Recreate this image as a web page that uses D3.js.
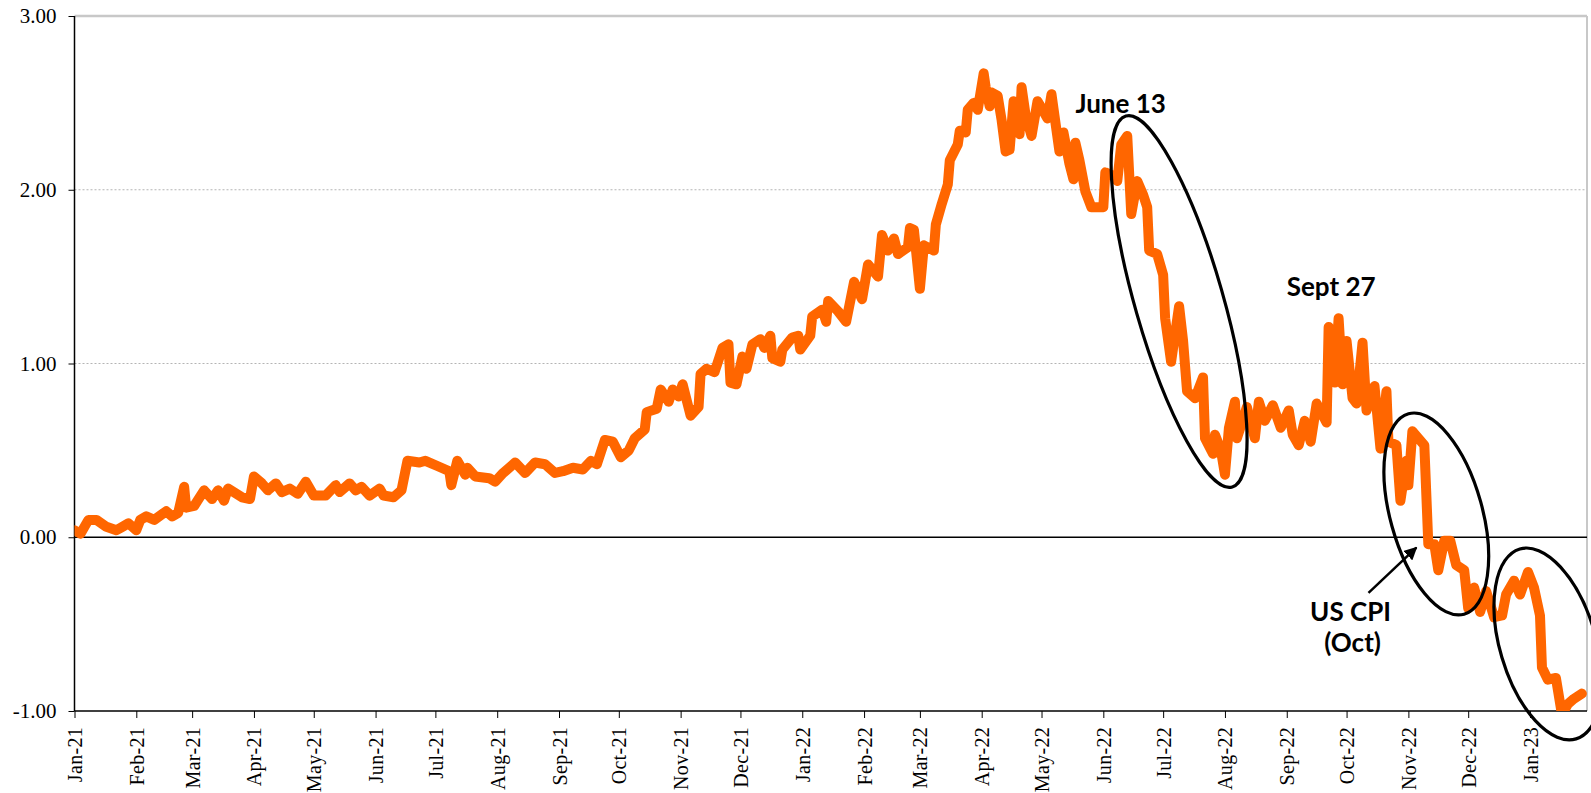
<!DOCTYPE html>
<meta charset="utf-8">
<script src="https://d3js.org/d3.v7.min.js"></script>
<style>
  body { margin: 0; background: #fff; }
</style>
<div id="chart"></div>
<script>

// dates and values
const dates = [
  "2021-01-01","2021-01-04","2021-01-08","2021-01-12","2021-01-17","2021-01-22","2021-01-25","2021-01-28",
  "2021-02-01","2021-02-03","2021-02-06","2021-02-10","2021-02-16","2021-02-19","2021-02-22","2021-02-25","2021-02-26",
  "2021-03-02","2021-03-07","2021-03-11","2021-03-14","2021-03-17","2021-03-19","2021-03-26","2021-03-30",
  "2021-04-01","2021-04-05","2021-04-08","2021-04-12","2021-04-15","2021-04-19","2021-04-23","2021-04-27",
  "2021-05-01","2021-05-07","2021-05-12","2021-05-14","2021-05-19","2021-05-22","2021-05-25","2021-05-29",
  "2021-06-03","2021-06-05","2021-06-10","2021-06-14","2021-06-17","2021-06-23","2021-06-26",
  "2021-07-02","2021-07-08","2021-07-09","2021-07-12","2021-07-16","2021-07-17","2021-07-21","2021-07-28","2021-07-31",
  "2021-08-04","2021-08-10","2021-08-15","2021-08-20","2021-08-25","2021-08-30",
  "2021-09-03","2021-09-08","2021-09-13","2021-09-17","2021-09-20","2021-09-24","2021-09-28",
  "2021-10-02","2021-10-06","2021-10-09","2021-10-14","2021-10-15","2021-10-20","2021-10-22","2021-10-26","2021-10-28","2021-10-31",
  "2021-11-02","2021-11-06","2021-11-10","2021-11-11","2021-11-14","2021-11-18","2021-11-22","2021-11-25","2021-11-26","2021-11-29",
  "2021-12-02","2021-12-04","2021-12-07","2021-12-11","2021-12-13","2021-12-16","2021-12-17","2021-12-21","2021-12-22","2021-12-27","2021-12-30","2021-12-31",
  "2022-01-05","2022-01-06","2022-01-11","2022-01-13","2022-01-14","2022-01-19","2022-01-23","2022-01-27","2022-01-31",
  "2022-02-03","2022-02-08","2022-02-10","2022-02-13","2022-02-16","2022-02-18","2022-02-23","2022-02-24","2022-02-26",
  "2022-03-01","2022-03-03","2022-03-08","2022-03-09","2022-03-12","2022-03-15","2022-03-16","2022-03-20","2022-03-21","2022-03-24","2022-03-25","2022-03-28","2022-03-30",
  "2022-04-02","2022-04-03","2022-04-05","2022-04-06","2022-04-09","2022-04-11","2022-04-13","2022-04-15","2022-04-17","2022-04-20","2022-04-21","2022-04-23","2022-04-26","2022-04-29",
  "2022-05-01","2022-05-04","2022-05-06","2022-05-10","2022-05-12","2022-05-15","2022-05-17","2022-05-18","2022-05-20","2022-05-23","2022-05-26",
  "2022-06-01","2022-06-02","2022-06-06","2022-06-08","2022-06-10","2022-06-13","2022-06-15","2022-06-18","2022-06-21","2022-06-23","2022-06-24","2022-06-28",
  "2022-07-01","2022-07-02","2022-07-05","2022-07-09","2022-07-11","2022-07-13","2022-07-17","2022-07-21","2022-07-22","2022-07-26","2022-07-27","2022-07-30",
  "2022-08-01","2022-08-03","2022-08-06","2022-08-07","2022-08-09","2022-08-12","2022-08-16","2022-08-18","2022-08-21","2022-08-25","2022-08-29",
  "2022-09-02","2022-09-04","2022-09-07","2022-09-10","2022-09-13","2022-09-16","2022-09-21","2022-09-22","2022-09-25","2022-09-27","2022-09-29",
  "2022-10-01","2022-10-04","2022-10-06","2022-10-09","2022-10-11","2022-10-15","2022-10-18","2022-10-21","2022-10-22","2022-10-26","2022-10-28","2022-10-31",
  "2022-11-01","2022-11-03","2022-11-06","2022-11-09","2022-11-11","2022-11-14","2022-11-16","2022-11-19","2022-11-22","2022-11-25","2022-11-29",
  "2022-12-01","2022-12-04","2022-12-07","2022-12-10","2022-12-14","2022-12-18","2022-12-20","2022-12-24","2022-12-27","2022-12-31",
  "2023-01-03","2023-01-06","2023-01-07","2023-01-10","2023-01-14","2023-01-17","2023-01-20","2023-01-23","2023-01-27"
];
const values = [
  0.04,0.02,0.10,0.10,0.06,0.04,0.06,0.08,
  0.04,0.10,0.12,0.10,0.15,0.12,0.14,0.29,0.17,
  0.18,0.27,0.22,0.27,0.21,0.28,0.23,0.22,
  0.35,0.31,0.27,0.31,0.26,0.28,0.25,0.32,
  0.24,0.24,0.30,0.26,0.31,0.27,0.29,0.24,
  0.28,0.24,0.23,0.27,0.44,0.43,0.44,
  0.41,0.38,0.30,0.44,0.36,0.40,0.35,0.34,0.32,
  0.37,0.43,0.37,0.43,0.42,0.37,
  0.38,0.40,0.39,0.44,0.42,0.56,0.55,
  0.46,0.50,0.57,0.62,0.72,0.74,0.85,0.78,0.85,0.81,
  0.88,0.70,0.75,0.94,0.97,0.95,1.09,1.11,0.89,0.88,
  1.04,0.97,1.11,1.14,1.09,1.16,1.03,1.01,1.08,1.15,1.16,1.08,
  1.16,1.27,1.31,1.24,1.36,1.30,1.24,1.47,1.37,
  1.57,1.50,1.74,1.65,1.72,1.63,1.67,1.78,1.77,
  1.43,1.68,1.65,1.80,1.92,2.03,2.17,2.26,2.34,2.33,2.46,2.50,2.46,
  2.67,2.59,2.48,2.56,2.54,2.40,2.22,2.23,2.51,2.32,2.59,2.43,2.31,2.51,
  2.47,2.41,2.55,2.22,2.33,2.15,2.06,2.27,2.17,1.99,1.90,
  1.90,2.10,2.08,2.05,2.26,2.31,1.86,2.05,1.97,1.90,1.65,1.63,
  1.51,1.26,1.01,1.33,1.13,0.84,0.80,0.92,0.57,0.48,0.59,0.50,
  0.36,0.63,0.78,0.57,0.64,0.75,0.57,0.78,0.67,0.76,0.63,
  0.73,0.59,0.53,0.67,0.55,0.77,0.66,1.21,0.89,1.26,0.88,
  1.13,0.80,0.77,1.12,0.73,0.87,0.51,0.84,0.55,0.53,0.21,0.44,
  0.30,0.61,0.57,0.53,-0.04,-0.04,-0.19,-0.02,-0.02,-0.16,-0.19,
  -0.41,-0.29,-0.43,-0.31,-0.46,-0.45,-0.33,-0.25,-0.33,-0.20,
  -0.29,-0.45,-0.75,-0.82,-0.81,-1.02,-0.96,-0.93,-0.90
];
const yTicks = [-1, 0, 1, 2, 3];
const gridValues = [1, 2];

// notes drawn over the line
const labels = [
  {text: "June 13", date: "2022-05-18", value: 2.44, anchor: "start"},
  {text: "Sept 27", date: "2022-09-01", value: 1.39, anchor: "start"},
  {text: "US CPI", date: "2022-10-03", value: -0.48, anchor: "middle"},
  {text: "(Oct)", date: "2022-10-04", value: -0.66, anchor: "middle"}
];
const rings = [
  {date: "2022-07-09", value: 1.357, rx: 193, ry: 44, angle: 74},
  {date: "2022-11-15", value: 0.134, rx: 104, ry: 46, angle: 74.5},
  {date: "2023-01-10", value: -0.614, rx: 99, ry: 48, angle: 73.5}
];
const arrow = {from: ["2022-10-12", -0.32], to: ["2022-11-05", -0.06]};

const width = 1591, height = 793;
const margin = {left: 74.5, right: 1587, top: 16, bottom: 711};

const parse = d3.utcParse("%Y-%m-%d");
const data = dates.map((d, i) => ({date: parse(d), value: values[i]}));

const svg = d3.select("#chart").append("svg")
    .attr("width", width)
    .attr("height", height);

const x = d3.scaleUtc()
  .domain([parse("2021-01-01"), d3.utcParse("%Y-%m-%dT%H")("2023-01-29T14")])
  .range([margin.left, margin.right]);

const y = d3.scaleLinear()
  .domain([-1, 3])
  .range([margin.bottom, margin.top]);

// grid
svg.append("g")
  .selectAll("line")
  .data(gridValues)
  .join("line")
    .attr("x1", margin.left).attr("x2", margin.right)
    .attr("y1", d => y(d)).attr("y2", d => y(d))
    .attr("stroke", "#b4b4b4")
    .attr("stroke-width", 1)
    .attr("stroke-dasharray", "2,2");

// frame: top and right in gray
svg.append("line")
  .attr("x1", margin.left).attr("x2", margin.right)
  .attr("y1", margin.top).attr("y2", margin.top)
  .attr("stroke", "#c8c8c8").attr("stroke-width", 2.5);
svg.append("line")
  .attr("x1", margin.right).attr("x2", margin.right)
  .attr("y1", margin.top).attr("y2", margin.bottom)
  .attr("stroke", "#c8c8c8").attr("stroke-width", 2);

// y axis
const yAxis = svg.append("g")
  .attr("transform", `translate(${margin.left},0)`)
  .call(d3.axisLeft(y).tickValues(yTicks).tickFormat(d => d.toFixed(2)).tickSize(6).tickPadding(12))
yAxis.select(".domain").remove();
yAxis.selectAll("line").attr("stroke", "#000");
yAxis.selectAll("text")
  .attr("font-family", "Liberation Serif, Times New Roman, serif")
  .attr("font-size", 21)
  .attr("fill", "#000");

// x axis
const xAxis = svg.append("g")
  .attr("transform", `translate(0,${margin.bottom})`)
  .call(d3.axisBottom(x)
    .ticks(d3.utcMonth.every(1))
    .tickFormat(d3.utcFormat("%b-%y"))
    .tickSize(7));
xAxis.select(".domain").remove();
xAxis.selectAll("line").attr("stroke", "#000");
xAxis.selectAll("text")
  .attr("font-family", "Liberation Serif, Times New Roman, serif")
  .attr("font-size", 20)
  .attr("letter-spacing", 0.3)
  .attr("fill", "#000")
  .attr("transform", "rotate(-90)")
  .attr("x", -16)
  .attr("y", 0)
  .attr("dy", "0.35em")
  .style("text-anchor", "end");

// axis lines
svg.append("line")
  .attr("x1", margin.left).attr("x2", margin.left)
  .attr("y1", margin.top).attr("y2", margin.bottom)
  .attr("stroke", "#000").attr("stroke-width", 1.5);
svg.append("line")
  .attr("x1", margin.left).attr("x2", margin.right)
  .attr("y1", margin.bottom).attr("y2", margin.bottom)
  .attr("stroke", "#000").attr("stroke-width", 1.5);
svg.append("line")
  .attr("x1", margin.left).attr("x2", margin.right)
  .attr("y1", y(0)).attr("y2", y(0))
  .attr("stroke", "#000").attr("stroke-width", 1.5);

// series
svg.append("clipPath").attr("id", "plot")
  .append("rect")
    .attr("x", margin.left).attr("y", margin.top)
    .attr("width", margin.right - margin.left).attr("height", margin.bottom - margin.top);

svg.append("path")
  .datum(data)
  .attr("clip-path", "url(#plot)")
  .attr("d", d3.line()
    .x(d => x(d.date))
    .y(d => y(d.value)))
  .attr("fill", "none")
  .attr("stroke", "#ff6600")
  .attr("stroke-width", 10)
  .attr("stroke-linejoin", "round")
  .attr("stroke-linecap", "round");

// ellipses
svg.append("g")
  .selectAll("ellipse")
  .data(rings)
  .join("ellipse")
    .attr("transform", d => `translate(${x(parse(d.date))},${y(d.value)}) rotate(${d.angle})`)
    .attr("rx", d => d.rx)
    .attr("ry", d => d.ry)
    .attr("fill", "none")
    .attr("stroke", "#000")
    .attr("stroke-width", 3.2);

// arrow
svg.append("defs").append("marker")
    .attr("id", "head")
    .attr("viewBox", "0 0 10 10")
    .attr("refX", 9).attr("refY", 5)
    .attr("markerWidth", 13).attr("markerHeight", 13)
    .attr("markerUnits", "userSpaceOnUse")
    .attr("orient", "auto")
  .append("path")
    .attr("d", "M0,0L10,5L0,10z")
    .attr("fill", "#000");

svg.append("line")
  .attr("x1", x(parse(arrow.from[0]))).attr("y1", y(arrow.from[1]))
  .attr("x2", x(parse(arrow.to[0]))).attr("y2", y(arrow.to[1]))
  .attr("stroke", "#000")
  .attr("stroke-width", 2.5)
  .attr("marker-end", "url(#head)");

// labels
svg.append("g")
  .selectAll("text")
  .data(labels)
  .join("text")
    .attr("x", d => x(parse(d.date)))
    .attr("y", d => y(d.value))
    .attr("text-anchor", d => d.anchor)
    .attr("font-family", "Lato, Calibri, sans-serif")
    .attr("font-weight", 700)
    .attr("font-size", 26)
    .attr("fill", "#000")
    .text(d => d.text);

</script>
